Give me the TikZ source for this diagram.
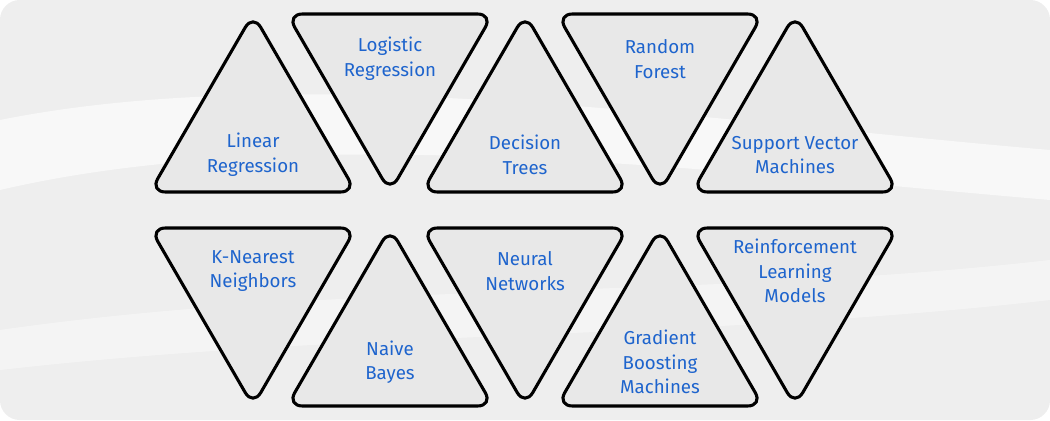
\documentclass[tikz,border=0pt]{standalone}
\usepackage{fontspec}
\setmainfont{Fira Sans}
\definecolor{mlblue}{RGB}{30,100,205}
\definecolor{mlfill}{RGB}{232,232,232}
\definecolor{mlback}{RGB}{238,238,238}
\tikzset{
  tri/.style={draw=black, line width=2.2pt, fill=mlfill, rounded corners=11pt, line join=round},
  lbl/.style={text=mlblue, align=center, font=\fontsize{13.3}{17.5}\selectfont}
}
\begin{document}
\begin{tikzpicture}[x=0.025cm, y=-0.025cm]
  % background
  \fill[mlback, rounded corners=14pt] (0,0) rectangle (1050,420);
  \useasboundingbox (0,0) rectangle (1050,420);
  \fill[white, opacity=0.6] (0,120) .. controls (300,60) and (700,120) .. (1050,150)
    -- (1050,200) .. controls (700,170) and (300,120) .. (0,190) -- cycle;
  \fill[white, opacity=0.4] (0,330) .. controls (350,280) and (700,300) .. (1050,260)
    -- (1050,300) .. controls (700,340) and (350,330) .. (0,370) -- cycle;

  % upward triangles: apex x, top y, bottom y
  \foreach \cx/\ty/\by in {253/14/192, 525/14/192, 795/14/192, 390/228/406, 660/228/406}
    \draw[tri] (\cx-103,\by) -- (\cx,\ty) -- (\cx+103,\by) -- cycle;
  % downward triangles
  \foreach \cx/\ty/\by in {390/14/192, 660/14/192, 253/228/406, 525/228/406, 795/228/406}
    \draw[tri] (\cx-103,\ty) -- (\cx+103,\ty) -- (\cx,\by) -- cycle;

  % labels
  \node[lbl] (linreg) at (253,155) {Linear\\Regression};
  \node[lbl] (logreg) at (390,59) {Logistic\\Regression};
  \node[lbl] (dtree) at (525,155) {Decision\\Trees};
  \node[lbl] (rforest) at (660,59) {Random\\Forest};
  \node[lbl] (svm) at (795,155) {Support Vector\\Machines};
  \node[lbl] (knn) at (253,271) {K-Nearest\\Neighbors};
  \node[lbl] (nbayes) at (390,362) {Naive\\Bayes};
  \node[lbl] (nnet) at (525,271) {Neural\\Networks};
  \node[lbl] (gbm) at (660,362) {Gradient\\Boosting\\Machines};
  \node[lbl] (rlm) at (795,271) {Reinforcement\\Learning\\Models};
\end{tikzpicture}
\end{document}
